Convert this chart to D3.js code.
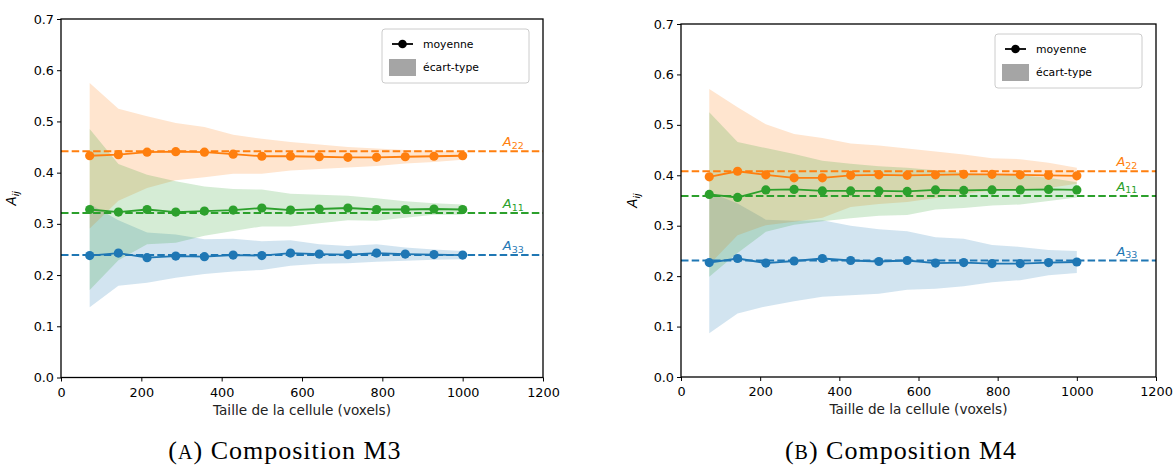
<!DOCTYPE html>
<html><head><meta charset="utf-8">
<script src="https://cdn.jsdelivr.net/npm/d3@7"></script>
<style>
html,body{margin:0;padding:0;background:#fff;}
svg{display:block;}
</style></head>
<body>
<svg id="chart" width="1173" height="466"></svg>
<script>
// ---------- data ----------
const cellSizes = [71.4, 142.9, 214.3, 285.7, 357.1, 428.6, 500, 571.4, 642.9, 714.3, 785.7, 857.1, 928.6, 1000];
const xTicks = [0, 200, 400, 600, 800, 1000, 1200];
const yTicks = [0.0, 0.1, 0.2, 0.3, 0.4, 0.5, 0.6, 0.7];
const componentNames = ["33", "22", "11"];
const componentColors = ["#1f77b4", "#ff7f0e", "#2ca02c"];

// Composition M3
const m3A33Mean = [0.238, 0.243, 0.234, 0.237, 0.236, 0.239, 0.238, 0.243, 0.241, 0.240, 0.243, 0.241, 0.240, 0.239];
const m3A33Sd   = [0.101, 0.064, 0.049, 0.042, 0.034, 0.032, 0.028, 0.025, 0.019, 0.017, 0.017, 0.013, 0.010, 0.008];
const m3A22Mean = [0.433, 0.435, 0.440, 0.441, 0.440, 0.436, 0.432, 0.432, 0.431, 0.430, 0.430, 0.431, 0.432, 0.433];
const m3A22Sd   = [0.142, 0.090, 0.070, 0.056, 0.049, 0.038, 0.034, 0.028, 0.024, 0.020, 0.017, 0.013, 0.011, 0.008];
const m3A11Mean = [0.328, 0.323, 0.328, 0.323, 0.325, 0.327, 0.331, 0.327, 0.329, 0.331, 0.328, 0.328, 0.329, 0.328];
const m3A11Sd   = [0.157, 0.094, 0.068, 0.060, 0.048, 0.041, 0.036, 0.032, 0.028, 0.024, 0.022, 0.016, 0.011, 0.010];
const m3Ref     = [0.239, 0.442, 0.321];   // A33, A22, A11

// Composition M4
const m4A33Mean = [0.227, 0.235, 0.226, 0.230, 0.235, 0.231, 0.229, 0.231, 0.226, 0.227, 0.225, 0.225, 0.227, 0.228];
const m4A33Sd   = [0.140, 0.109, 0.086, 0.080, 0.076, 0.069, 0.064, 0.058, 0.051, 0.047, 0.037, 0.033, 0.025, 0.022];
const m4A22Mean = [0.397, 0.408, 0.401, 0.395, 0.395, 0.400, 0.401, 0.400, 0.401, 0.402, 0.402, 0.401, 0.400, 0.399];
const m4A22Sd   = [0.174, 0.127, 0.100, 0.087, 0.079, 0.063, 0.058, 0.053, 0.046, 0.039, 0.032, 0.031, 0.025, 0.016];
const m4A11Mean = [0.362, 0.356, 0.371, 0.372, 0.369, 0.369, 0.369, 0.368, 0.371, 0.370, 0.371, 0.371, 0.372, 0.371];
const m4A11Sd   = [0.163, 0.110, 0.083, 0.070, 0.060, 0.054, 0.049, 0.047, 0.039, 0.035, 0.031, 0.029, 0.023, 0.015];
const m4Ref     = [0.231, 0.408, 0.359];   // A33, A22, A11

const legendLabels = ["moyenne", "écart-type"];
const xLabel = "Taille de la cellule (voxels)";
const captions = [["A", "Composition M3"], ["B", "Composition M4"]];

// ---------- drawing ----------
const svg = d3.select("#chart");
svg.append("rect").attr("width", 1173).attr("height", 466).attr("fill", "#fff");

const panels = [
  {left: 61, right: 543, top: 19, bottom: 377.5, means: [m3A33Mean, m3A22Mean, m3A11Mean], sds: [m3A33Sd, m3A22Sd, m3A11Sd], refs: m3Ref, caption: captions[0], ylabX: 16, capX: 285},
  {left: 681, right: 1156, top: 24, bottom: 377, means: [m4A33Mean, m4A22Mean, m4A11Mean], sds: [m4A33Sd, m4A22Sd, m4A11Sd], refs: m4Ref, caption: captions[1], ylabX: 637, capX: 901}
];

const tickFont = "'DejaVu Sans', sans-serif";

panels.forEach(p => {
  const x = d3.scaleLinear().domain([0, 1200]).range([p.left, p.right]);
  const y = d3.scaleLinear().domain([0, 0.7]).range([p.bottom, p.top]);
  const g = svg.append("g");

  // std bands
  p.means.forEach((mean, k) => {
    const area = d3.area()
      .x((d, i) => x(cellSizes[i]))
      .y0((d, i) => y(mean[i] - p.sds[k][i]))
      .y1((d, i) => y(mean[i] + p.sds[k][i]));
    g.append("path").datum(mean).attr("d", area)
      .attr("fill", componentColors[k]).attr("fill-opacity", 0.2).attr("stroke", "none");
  });

  // reference dashed lines
  p.refs.forEach((r, k) => {
    g.append("line")
      .attr("x1", x(0)).attr("x2", x(1200))
      .attr("y1", y(r)).attr("y2", y(r))
      .attr("stroke", componentColors[k]).attr("stroke-width", 2)
      .attr("stroke-dasharray", "7.5,3.2");
  });

  // mean lines + markers
  p.means.forEach((mean, k) => {
    const line = d3.line().x((d, i) => x(cellSizes[i])).y(d => y(d));
    g.append("path").datum(mean).attr("d", line)
      .attr("fill", "none").attr("stroke", componentColors[k]).attr("stroke-width", 1.8);
    g.selectAll(null).data(mean).enter().append("circle")
      .attr("cx", (d, i) => x(cellSizes[i])).attr("cy", d => y(d))
      .attr("r", 4.6).attr("fill", componentColors[k]);
  });

  // labels A_ij near reference lines
  p.refs.forEach((r, k) => {
    const t = g.append("text")
      .attr("x", x(1100)).attr("y", y(r) - 5)
      .attr("fill", componentColors[k])
      .attr("font-family", tickFont).attr("font-size", 13);
    t.append("tspan").attr("font-style", "italic").text("A");
    t.append("tspan").attr("font-size", 9.5).attr("dy", 2.5).text(componentNames[k]);
  });

  // axes
  const xAxis = d3.axisBottom(x).tickValues(xTicks).tickFormat(d3.format("d")).tickSize(4).tickSizeOuter(0);
  const yAxis = d3.axisLeft(y).tickValues(yTicks).tickFormat(d3.format(".1f")).tickSize(4).tickSizeOuter(0);
  const gx = g.append("g").attr("transform", `translate(0,${p.bottom})`).call(xAxis);
  const gy = g.append("g").attr("transform", `translate(${p.left},0)`).call(yAxis);
  [gx, gy].forEach(ax => {
    ax.select(".domain").remove();
    ax.selectAll("line").attr("stroke", "#000").attr("stroke-width", 1);
    ax.selectAll("text").attr("font-family", tickFont).attr("font-size", 12.8).attr("fill", "#000");
  });
  gx.selectAll("text").attr("dy", "0.95em");

  // spines
  g.append("rect").attr("x", p.left).attr("y", p.top)
    .attr("width", p.right - p.left).attr("height", p.bottom - p.top)
    .attr("fill", "none").attr("stroke", "#000").attr("stroke-width", 1.3);

  // axis labels
  g.append("text").attr("x", (p.left + p.right) / 2).attr("y", p.bottom + 37)
    .attr("text-anchor", "middle").attr("font-family", tickFont).attr("font-size", 13.6)
    .attr("fill", "#222").text(xLabel);
  const yl = g.append("text")
    .attr("transform", `translate(${p.ylabX},${(p.top + p.bottom) / 2}) rotate(-90)`)
    .attr("text-anchor", "middle").attr("font-family", tickFont).attr("font-size", 13.5).attr("fill", "#000");
  yl.append("tspan").attr("font-style", "italic").text("A");
  yl.append("tspan").attr("font-style", "italic").attr("font-size", 9.5).attr("dy", 3).text("ij");

  // legend
  const lx = p.right - 161, ly = p.top + 10;
  const lg = g.append("g").attr("transform", `translate(${lx},${ly})`);
  lg.append("rect").attr("x", 0).attr("y", 0).attr("width", 147).attr("height", 54)
    .attr("rx", 3).attr("fill", "#fff").attr("fill-opacity", 0.8)
    .attr("stroke", "#ccc").attr("stroke-width", 1);
  lg.append("line").attr("x1", 10).attr("x2", 31).attr("y1", 15).attr("y2", 15)
    .attr("stroke", "#000").attr("stroke-width", 1.8);
  lg.append("circle").attr("cx", 20.5).attr("cy", 15).attr("r", 4.3).attr("fill", "#000");
  lg.append("rect").attr("x", 7).attr("y", 30).attr("width", 27).attr("height", 17).attr("fill", "#a5a5a5");
  legendLabels.forEach((t, i) => {
    lg.append("text").attr("x", 41).attr("y", i === 0 ? 15 : 38.5).attr("dy", "0.35em")
      .attr("font-family", tickFont).attr("font-size", 10.8).attr("fill", "#000").text(t);
  });

  // caption
  const cap = svg.append("text").attr("x", p.capX).attr("y", 459)
    .attr("text-anchor", "middle").attr("font-family", "'Liberation Serif', serif")
    .attr("font-size", 26).attr("letter-spacing", 1).attr("fill", "#000");
  cap.append("tspan").text("(");
  cap.append("tspan").attr("font-size", 20).text(p.caption[0]);
  cap.append("tspan").text(") " + p.caption[1]);
});
</script>
</body></html>
